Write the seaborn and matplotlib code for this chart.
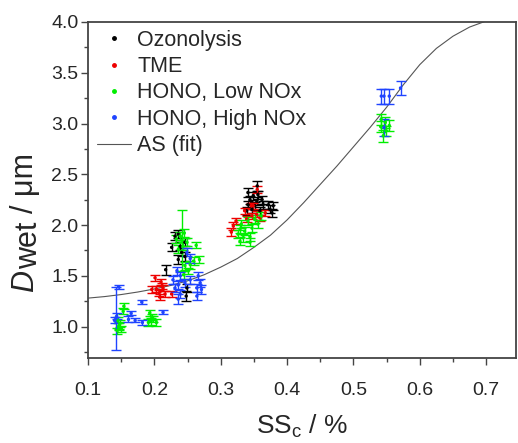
import numpy as np
import pandas as pd
import matplotlib
matplotlib.use("Agg")
import matplotlib.pyplot as plt
from matplotlib.ticker import MultipleLocator
from matplotlib.lines import Line2D
from matplotlib.transforms import IdentityTransform
import seaborn as sns

# ---------------- data ----------------
ozo_x = [0.217, 0.236, 0.226, 0.239, 0.241, 0.236, 0.246, 0.249, 0.248, 0.231, 0.246,
         0.355, 0.341, 0.349, 0.356, 0.344, 0.354, 0.362, 0.341, 0.351, 0.364, 0.372,
         0.379, 0.347, 0.359, 0.374, 0.377, 0.339]
ozo_y = [1.56, 1.91, 1.78, 1.79, 1.73, 1.66, 1.69, 1.38, 1.30, 1.89, 1.83,
         2.385, 2.32, 2.29, 2.30, 2.25, 2.24, 2.25, 2.20, 2.19, 2.20, 2.20,
         2.19, 2.155, 2.14, 2.155, 2.12, 2.14]
ozo_e = [0.05, 0.04, 0.04, 0.04, 0.04, 0.04, 0.04, 0.04, 0.05, 0.04, 0.04,
         0.05, 0.04, 0.04, 0.04, 0.04, 0.04, 0.04, 0.04, 0.04, 0.04, 0.04,
         0.04, 0.04, 0.04, 0.04, 0.04, 0.04]

tme_x = [0.201, 0.210, 0.203, 0.213, 0.207, 0.216, 0.226, 0.196, 0.208, 0.212,
         0.319, 0.316, 0.323, 0.349, 0.336, 0.354, 0.359, 0.367, 0.347, 0.339,
         0.355, 0.346]
tme_y = [1.48, 1.44, 1.37, 1.38, 1.33, 1.32, 1.32, 1.365, 1.29, 1.40,
         1.99, 1.93, 2.04, 2.19, 2.14, 2.105, 2.07, 2.12, 2.09, 2.06,
         2.35, 2.19]
tme_e = [0.03, 0.03, 0.03, 0.03, 0.03, 0.03, 0.03, 0.03, 0.03, 0.03,
         0.04, 0.04, 0.03, 0.03, 0.03, 0.03, 0.03, 0.03, 0.03, 0.03,
         0.03, 0.03]

low_x = [0.144, 0.146, 0.148, 0.145, 0.150, 0.147, 0.154, 0.153,
         0.193, 0.196, 0.195, 0.203, 0.198, 0.191,
         0.241, 0.245, 0.239, 0.233, 0.249, 0.263, 0.243, 0.236, 0.268, 0.259,
         0.254, 0.246, 0.251, 0.244,
         0.331, 0.341, 0.351, 0.329, 0.336, 0.347, 0.326, 0.334, 0.344, 0.329,
         0.344, 0.356, 0.361,
         0.542, 0.548, 0.554, 0.545, 0.549, 0.541]
low_y = [0.96, 1.00, 1.03, 1.06, 0.98, 1.01, 1.20, 1.15,
         1.135, 1.095, 1.05, 1.04, 1.07, 1.04,
         1.85, 1.92, 1.89, 1.86, 1.83, 1.80, 1.79, 1.76, 1.66, 1.645,
         1.61, 1.60, 1.55, 1.51,
         2.01, 2.04, 2.06, 1.96, 1.94, 1.97, 1.91, 1.875, 1.885, 1.84,
         1.83, 2.01, 2.09,
         3.04, 3.01, 2.98, 2.88, 2.93, 2.97]
low_e = [0.03, 0.03, 0.03, 0.03, 0.03, 0.03, 0.03, 0.03,
         0.03, 0.03, 0.03, 0.03, 0.03, 0.03,
         0.30, 0.04, 0.04, 0.04, 0.04, 0.03, 0.04, 0.04, 0.03, 0.04,
         0.04, 0.04, 0.03, 0.04,
         0.04, 0.04, 0.04, 0.04, 0.04, 0.04, 0.04, 0.04, 0.04, 0.04,
         0.04, 0.04, 0.04,
         0.05, 0.05, 0.05, 0.06, 0.05, 0.05]

high_x = [0.142, 0.146, 0.140, 0.143, 0.165, 0.161, 0.171, 0.181, 0.182, 0.213,
          0.249, 0.254, 0.234, 0.228, 0.239, 0.246, 0.236, 0.231, 0.254, 0.266,
          0.269, 0.264, 0.271, 0.239, 0.236, 0.264,
          0.542, 0.546, 0.554, 0.571, 0.546]
high_y = [1.08, 1.39, 1.06, 1.10, 1.13, 1.07, 1.06, 1.24, 1.04, 1.14,
          1.73, 1.67, 1.55, 1.46, 1.50, 1.43, 1.41, 1.38, 1.46, 1.50,
          1.43, 1.38, 1.365, 1.32, 1.27, 1.30,
          3.27, 3.27, 3.27, 3.35, 2.96]
high_e = [0.31, 0.02, 0.03, 0.03, 0.02, 0.03, 0.02, 0.02, 0.02, 0.02,
          0.04, 0.04, 0.04, 0.04, 0.04, 0.04, 0.04, 0.04, 0.04, 0.04,
          0.04, 0.04, 0.04, 0.04, 0.05, 0.04,
          0.074, 0.074, 0.074, 0.07, 0.08]

fit_x = [0.100, 0.125, 0.150, 0.175, 0.200, 0.225, 0.250, 0.275, 0.300, 0.325,
         0.350, 0.375, 0.400, 0.425, 0.450, 0.475, 0.500, 0.525, 0.550, 0.575,
         0.600, 0.625, 0.650, 0.675, 0.700]
fit_y = [1.28, 1.295, 1.315, 1.34, 1.37, 1.405, 1.45, 1.51, 1.585, 1.67,
         1.78, 1.90, 2.05, 2.22, 2.40, 2.58, 2.77, 2.96, 3.16, 3.38,
         3.58, 3.74, 3.86, 3.95, 4.01]

series_names = ["Ozonolysis", "TME", "HONO, Low NOx", "HONO, High NOx"]
fit_name = "AS (fit)"
x_ticks = [0.1, 0.2, 0.3, 0.4, 0.5, 0.6, 0.7]
y_ticks = [1.0, 1.5, 2.0, 2.5, 3.0, 3.5, 4.0]

# ---------------- style ----------------
sns.set_style("ticks")
plt.rcParams["font.family"] = ["Liberation Sans", "DejaVu Sans"]
plt.rcParams["mathtext.fontset"] = "custom"
plt.rcParams["mathtext.rm"] = "Liberation Sans"
plt.rcParams["mathtext.it"] = "Liberation Sans:italic"

colors = {"Ozonolysis": "#000000", "TME": "#ee0000",
          "HONO, Low NOx": "#00ee00", "HONO, High NOx": "#1f44ff"}

frames = []
for name, xs, ys, es in [("Ozonolysis", ozo_x, ozo_y, ozo_e),
                         ("TME", tme_x, tme_y, tme_e),
                         ("HONO, Low NOx", low_x, low_y, low_e),
                         ("HONO, High NOx", high_x, high_y, high_e)]:
    frames.append(pd.DataFrame({"x": xs, "y": ys, "e": es, "series": name}))
df = pd.concat(frames, ignore_index=True)
fit_df = pd.DataFrame({"x": fit_x, "y": fit_y})

fig = plt.figure(figsize=(5.18, 4.43), dpi=100)
ax = fig.add_axes([88 / 518, 85 / 443, 428 / 518, 336 / 443])

sns.lineplot(data=fit_df, x="x", y="y", ax=ax, color="#555555", lw=0.8,
             sort=False, legend=False, zorder=1)

for name in series_names:
    sub = df[df["series"] == name]
    ax.errorbar(sub["x"], sub["y"], yerr=sub["e"], fmt="none",
                ecolor=colors[name], elinewidth=1.0, capsize=3.5, capthick=1.0,
                zorder=2)
sns.scatterplot(data=df, x="x", y="y", hue="series", hue_order=series_names,
                palette=colors, s=6, linewidth=0, ax=ax, legend=False, zorder=3)

ax.set_xlim(0.1, 0.745)
ax.set_ylim(0.69, 4.0)
ax.set_xticks(x_ticks)
ax.set_xticklabels([f"{t:.1f}" for t in x_ticks])
ax.set_yticks(y_ticks)
ax.set_yticklabels([f"{t:.1f}" for t in y_ticks])
ax.xaxis.set_minor_locator(MultipleLocator(0.05))
ax.yaxis.set_minor_locator(MultipleLocator(0.25))
ax.tick_params(which="major", direction="out", length=5, width=1.0,
               color="#444444", labelsize=14)
ax.tick_params(axis="x", which="major", pad=12.5)
ax.tick_params(axis="y", which="major", pad=2)
ax.tick_params(which="minor", direction="out", length=3, width=1.0,
               color="#444444")
for s in ax.spines.values():
    s.set_color("#444444")
    s.set_linewidth(1.3)

ax.set_xlabel(r"SS$_\mathrm{c}$ / %", fontsize=19, labelpad=10)
ax.set_ylabel("")

# y label "D_wet / μm" built from rotated pieces (D italic, 'wet' lowered)
fig.canvas.draw()
renderer = fig.canvas.get_renderer()
ylab_fs = 22
pieces = [("D", "italic", 33, 0), ("wet", "normal", 37, 1), ("/ μm", "normal", 33, 9)]
y_cursor = 443 - 292  # pixel position (from bottom) where the label starts
for txt, style, xb, gap in pieces:
    y_cursor += gap
    t = fig.text(xb, y_cursor, txt, fontsize=ylab_fs, style=style, rotation=90,
                 rotation_mode="anchor", ha="left", va="baseline",
                 transform=IdentityTransform())
    bb = t.get_window_extent(renderer)
    y_cursor += bb.height

handles = [Line2D([], [], ls="none", marker="o", ms=2.5, color=colors[n])
           for n in series_names]
handles.append(Line2D([], [], color="#555555", lw=0.8))
ax.legend(handles, series_names + [fit_name], loc="upper left",
          bbox_to_anchor=(0.022, 0.977), frameon=False, fontsize=15.5,
          borderaxespad=0, borderpad=0, handlelength=1.55,
          handletextpad=0.3, labelspacing=0.25)

fig.savefig("out.png", dpi=100)
